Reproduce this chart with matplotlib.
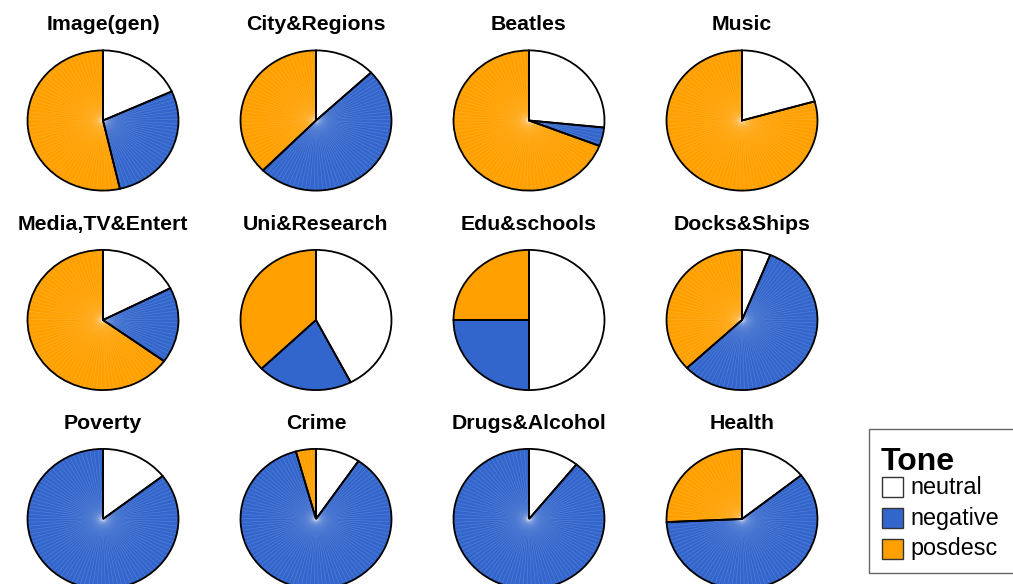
import numpy as np
import matplotlib
matplotlib.use("Agg")
import matplotlib.pyplot as plt
from matplotlib.patches import Wedge, Rectangle

plt.rcParams['font.family'] = ['Liberation Sans', 'DejaVu Sans']

# share of each tone per topic (clockwise from 12 o'clock: neutral, negative, posdesc)
topics = ["Image(gen)", "City&Regions", "Beatles", "Music",
          "Media,TV&Entert", "Uni&Research", "Edu&schools", "Docks&Ships",
          "Poverty", "Crime", "Drugs&Alcohol", "Health"]
neutral = [0.182, 0.130, 0.266, 0.206,
           0.175, 0.424, 0.500, 0.061,
           0.145, 0.095, 0.108, 0.143]
negative = [0.282, 0.494, 0.043, 0.000,
            0.175, 0.204, 0.250, 0.569,
            0.855, 0.862, 0.892, 0.600]
posdesc = [0.536, 0.376, 0.691, 0.794,
           0.650, 0.372, 0.250, 0.370,
           0.000, 0.043, 0.000, 0.257]
tones = ["neutral", "negative", "posdesc"]
colors = {"neutral": "white", "negative": "#3366CC", "posdesc": "#FFA000"}
# these two were drawn without the fine fan texture
plain = ["Uni&Research", "Edu&schools"]

W, H = 1013, 584
fig = plt.figure(figsize=(W / 100, H / 100), dpi=100)

col_x = [103, 316, 529, 742]
row_y = [120.5, 320, 519]
rx, ry = 77, 71.5

for i, name in enumerate(topics):
    cx = col_x[i % 4]
    cy = row_y[i // 4]
    ax = fig.add_axes([(cx - rx) / W, 1 - (cy + ry) / H, 2 * rx / W, 2 * ry / H])
    ax.set_xlim(-1.02, 1.02)
    ax.set_ylim(-1.02, 1.02)
    ax.axis("off")

    vals = [neutral[i], negative[i], posdesc[i]]
    start = 0
    sectors = []
    for t, v in zip(tones, vals):
        if v > 0:
            sectors.append((t, start, start + v))
        start += v
    # fill
    for t, a, b in sectors:
        ax.add_patch(Wedge((0, 0), 1, 90 - b * 360, 90 - a * 360,
                           facecolor=colors[t], edgecolor="none", zorder=1))
    # fan texture
    if name not in plain:
        for ang in np.arange(0, 360, 3.3):
            f = ang / 360
            for t, a, b in sectors:
                if t != "neutral" and a < f < b:
                    th = np.deg2rad(90 - ang)
                    ax.plot([0, np.cos(th)], [0, np.sin(th)],
                            color="white", alpha=0.15, lw=0.5, zorder=2)
    # outlines
    for t, a, b in sectors:
        ax.add_patch(Wedge((0, 0), 1, 90 - b * 360, 90 - a * 360,
                           facecolor="none", edgecolor="black", lw=1.3, zorder=3))

    fig.text(cx / W, 1 - (cy - ry - 24) / H, name, ha="center", va="center",
             fontsize=15.3, fontweight="bold")

# legend
lx, ly, lh = 869, 429, 144
fig.patches.append(Rectangle((lx / W, 1 - (ly + lh) / H), (W - lx + 5) / W, lh / H,
                             transform=fig.transFigure, facecolor="white",
                             edgecolor="#666666", lw=1.0))
fig.text(881 / W, 1 - 470 / H, "Tone", fontsize=23, fontweight="bold",
         va="baseline", ha="left")
for k, t in enumerate(tones):
    ky = 477 + k * 31
    fig.patches.append(Rectangle((882 / W, 1 - (ky + 20) / H), 21 / W, 20 / H,
                                 transform=fig.transFigure, facecolor=colors[t],
                                 edgecolor="#333333", lw=1.0))
    fig.text(910 / W, 1 - (ky + 10) / H, t, fontsize=16.8, va="center", ha="left")

fig.savefig("out.png", dpi=100)
